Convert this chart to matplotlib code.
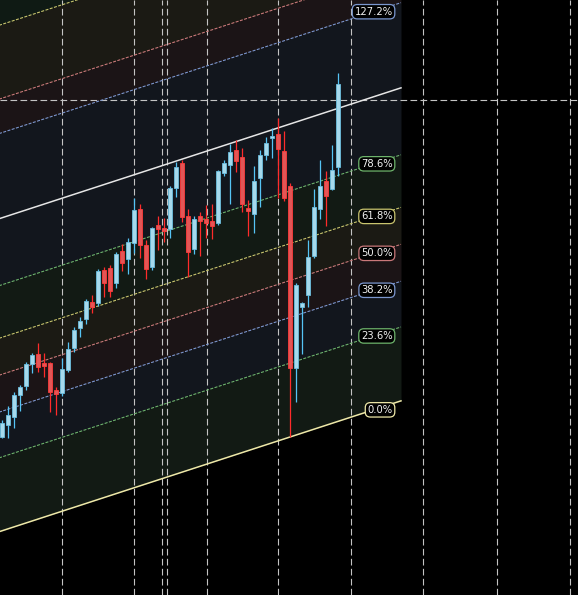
import matplotlib
matplotlib.use("Agg")
import matplotlib.pyplot as plt
import numpy as np

# candle prices (arbitrary units), one bar per step
opens = [163, 175, 183, 205, 214, 236, 246, 237, 237, 210, 207, 230, 252, 272, 281, 298,
         297, 330, 332, 317, 349, 341, 357, 391, 355, 333, 375, 372, 371, 412, 437, 384,
         351, 384, 381, 379, 377, 427, 435, 450, 443, 392, 386, 422, 445, 462, 466, 449,
         414, 232, 293, 305, 344, 391, 419, 411, 433]
highs = [180, 194, 208, 215, 238, 247, 257, 247, 238, 213, 242, 258, 273, 283, 301, 305,
         331, 333, 335, 348, 356, 362, 402, 396, 360, 373, 384, 382, 414, 438, 440, 391,
         384, 388, 395, 396, 430, 440, 456, 460, 452, 400, 434, 450, 463, 472, 482, 469,
         417, 317, 298, 360, 411, 440, 429, 455, 527]
lows = [162, 162, 172, 189, 210, 227, 228, 223, 188, 185, 204, 228, 248, 263, 276, 287,
        294, 303, 303, 312, 329, 326, 347, 342, 321, 330, 350, 358, 362, 403, 378, 323,
        346, 344, 362, 361, 375, 424, 396, 428, 388, 364, 367, 393, 440, 442, 402, 399,
        163, 198, 246, 293, 342, 381, 374, 410, 424]
closes = [177, 185, 205, 213, 236, 245, 233, 234, 208, 206, 231, 251, 270, 279, 299, 293,
          329, 317, 309, 346, 337, 358, 390, 355, 331, 372, 371, 369, 412, 433, 383, 348,
          381, 379, 377, 374, 429, 437, 448, 439, 396, 389, 419, 445, 457, 464, 451, 402,
          232, 315, 297, 343, 393, 414, 404, 430, 516]

# fib channel: base line anchored at the low of bar 48
chan_x0 = 48
chan_p0 = 163
chan_slope = 1.954
chan_height = 313
chan_end = 66.5
levels = [0, 0.236, 0.382, 0.5, 0.618, 0.786, 1.0, 1.272, 1.382, 1.618, 2.618]
level_colors = ["#eee8a8", "#6db36b", "#7b97cf", "#c9787a", "#c9c46e", "#6db36b",
                "#e6e6e6", "#7b97cf", "#c9787a", "#c9c46e", "#6db36b"]
band_colors = ["#121a14", "#12161d", "#1b1416", "#1b1a14", "#121a14",
               "#12161d", "#12161d", "#1b1416", "#1b1a14", "#0f1a14"]
label_levels = [0, 0.236, 0.382, 0.5, 0.618, 0.786, 1.272]
label_texts = ["0.0%", "23.6%", "38.2%", "50.0%", "61.8%", "78.6%", "127.2%"]

grid_x = [10, 22, 26.67, 27.5, 34.17, 46, 58.17, 70.17, 82.5, 94.67]
grid_y = 500

plt.rcParams["lines.scale_dashes"] = False
fig = plt.figure(figsize=(5.78, 5.95), dpi=100, facecolor="black")
ax = fig.add_axes([0, 0, 1, 1])
ax.set_facecolor("black")
ax.set_xlim(-0.333, 96)
ax.set_ylim(5, 600)
ax.axis("off")


def chan(x, lev):
    return chan_p0 + chan_slope * (np.asarray(x) - chan_x0) + lev * chan_height


xs = np.array([-2, chan_end])
for i in range(len(levels) - 1):
    ax.fill_between(xs, chan(xs, levels[i]), chan(xs, levels[i + 1]),
                    color=band_colors[i], lw=0, zorder=1)

for lev, col in zip(levels, level_colors):
    if lev in (0, 1.0):
        ax.plot(xs, chan(xs, lev), color=col, lw=1.1, zorder=3)
    else:
        ax.plot(xs, chan(xs, lev), color=col, lw=0.8, ls=(0, (2.2, 1.0)), zorder=3)

# dashed grid / crosshair
for gx in grid_x:
    ax.axvline(gx, color="#c4c4c4", lw=0.8, ls=(0, (4.8, 2.4)), zorder=2)
ax.axhline(grid_y, color="#c4c4c4", lw=0.8, ls=(0, (4.8, 2.4)), zorder=2)

# candles
idx = np.arange(len(opens))
o = np.array(opens)
c = np.array(closes)
up = c >= o
body_lo = np.minimum(o, c)
body_h = np.maximum(np.abs(c - o), 1.5)
ax.vlines(idx[up], np.array(lows)[up], np.array(highs)[up], color="#55c4f5", lw=0.9, zorder=4)
ax.vlines(idx[~up], np.array(lows)[~up], np.array(highs)[~up], color="#ff2b2b", lw=0.9, zorder=4)
ax.bar(idx[up], body_h[up], bottom=body_lo[up], width=0.75, color="#a6d9ec",
       edgecolor="#6cbfe0", lw=0.6, zorder=5)
ax.bar(idx[~up], body_h[~up], bottom=body_lo[~up], width=0.75, color="#e25656",
       edgecolor="#ff3b3b", lw=0.6, zorder=5)

# level labels on the right edge of the channel
for lev, txt in zip(label_levels, label_texts):
    col = level_colors[levels.index(lev)]
    ax.text(65.1, chan(61.9, lev), txt, ha="right", va="center", fontsize=7.2,
            color="#f2f2f2", zorder=6,
            bbox=dict(boxstyle="round,pad=0.22,rounding_size=0.5", fc="black",
                      ec=col, lw=0.9))

fig.savefig("out.png", dpi=100, facecolor="black")
